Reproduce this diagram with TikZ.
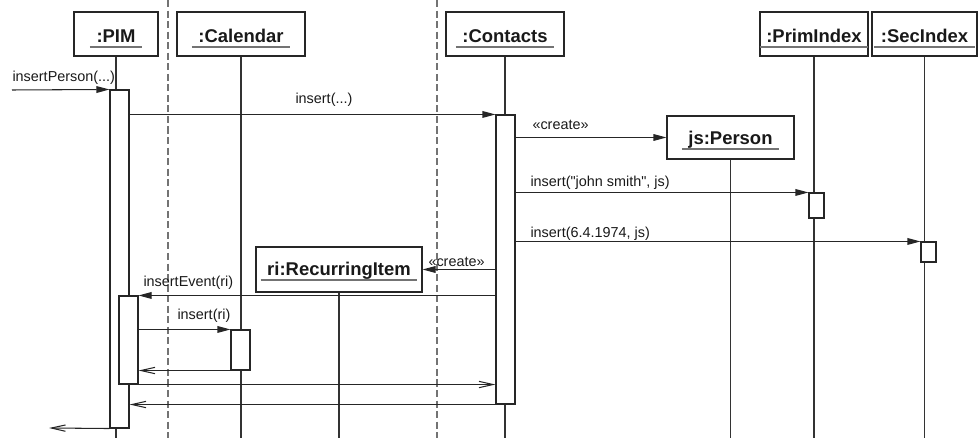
\documentclass[tikz,border=0pt]{standalone}
\usepackage{fontspec}
\setmainfont{Liberation Sans}
% plain family without TeX ligature mapping, so " stays a straight quote
\newfontfamily\plainsans{Liberation Sans}
\usetikzlibrary{arrows.meta,fit}

% object box with underlined bold name: name, x1, y1, x2, y2, text, baseline
\newcommand\umlobject[7]{%
  \node[obj, fit={(#2,#3)(#4,#5)}] (#1) {};
  \node[objtitle] (#1-t) at ({(#2+#4)/2},#7) {#6};
  \draw[uline] ([xshift=-3.5pt,yshift=-2.4pt]#1-t.base west) -- ([xshift=3.5pt,yshift=-2.4pt]#1-t.base east);
}

\begin{document}
\begin{tikzpicture}[x=0.02cm,y=-0.02cm,
  line width=0.6pt,
  obj/.style={draw=black!85, fill=white, inner sep=0pt},
  act/.style={draw=black!85, fill=white, inner sep=0pt},
  objtitle/.style={font=\fontsize{10.5}{12}\selectfont\bfseries, text=black!90, inner sep=0pt, anchor=base},
  uline/.style={draw=black!55, line width=1pt},
  lifeline/.style={draw=black!80},
  divider/.style={draw=black!55, dash pattern=on 4pt off 2pt},
  msg/.style={draw=black!85, -{Triangle[length=7.4pt,width=3.8pt]}},
  ret/.style={draw=black!85, -{Straight Barb[length=8pt,width=3.6pt]}},
  lbl/.style={font=\plainsans\fontsize{8.2}{10}\selectfont, text=black!90, inner sep=0pt, anchor=base west},
]
\useasboundingbox (0,0) rectangle (978,438);
\coordinate (bot) at (0,438);

% partition lines
\coordinate (d1t) at (168,0);  \coordinate (d1b) at (168,438);
\coordinate (d2t) at (437,0);  \coordinate (d2b) at (437,438);
\draw[divider] (d1t) -- (d1b);
\draw[divider] (d2t) -- (d2b);

% participants
\umlobject{pim}{74}{12}{158}{56}{:PIM}{43}
\umlobject{cal}{177}{12}{305}{56}{:Calendar}{43}
\umlobject{cont}{446}{12}{564}{56}{:Contacts}{43}
\umlobject{prim}{760}{12}{868}{56}{:PrimIndex}{43}
\umlobject{sec}{872}{12}{977}{56}{:SecIndex}{43}
\umlobject{person}{667}{116}{794}{159}{js:Person}{145}
\umlobject{ri}{256}{247}{422}{292}{ri:RecurringItem}{276}

% lifelines
\foreach \p in {pim,cal,cont,prim,sec,person,ri}
  \draw[lifeline] (\p.south) -- (\p.south |- bot);

% activations
\node[act, fit={(110,90)(129,428)}] (pimA) {};
\node[act, fit={(496,115)(515,404)}] (contA) {};
\node[act, fit={(809,193)(824,218)}] (primA) {};
\node[act, fit={(921,242)(936,262)}] (secA) {};
\node[act, fit={(119,296)(138,384)}] (pimB) {};
\node[act, fit={(231,330)(250,370)}] (calA) {};

% messages
\coordinate (caller) at (12,90);
\coordinate (exit) at (49,428);
\draw[msg] (caller) -- (pimA.north west);
\draw[msg] (pimA.east |- contA.north) -- (contA.north west);
\draw[msg] (contA.east |- person.west) -- (person.west);
\draw[msg] (contA.east |- primA.north) -- (primA.north west);
\draw[msg] (contA.east |- secA.north) -- (secA.north west);
\draw[msg] (contA.west |- ri.east) -- (ri.east);
\draw[msg] (contA.west |- pimB.north) -- (pimB.north east);
\draw[msg] (pimB.east |- calA.north) -- (calA.north west);

% returns
\draw[ret] (calA.south west) -- (pimB.east |- calA.south);
\draw[ret] (pimB.south east) -- (contA.west |- pimB.south);
\draw[ret] (contA.south west) -- (pimA.east |- contA.south);
\draw[ret] (pimA.south west) -- (exit);

% message labels
\node[lbl] (l1) at (12,82) {insertPerson(...)};
\node[lbl] (l2) at (295,104) {insert(...)};
\node[lbl] (l3) at (532,130) {«create»};
\node[lbl] (l4) at (530,187) {insert("john smith", js)};
\node[lbl] (l5) at (530,238) {insert(6.4.1974, js)};
\node[lbl] (l6) at (428,267) {«create»};
\node[lbl] (l7) at (143,287) {insertEvent(ri)};
\node[lbl] (l8) at (177,320) {insert(ri)};
\end{tikzpicture}
\end{document}
